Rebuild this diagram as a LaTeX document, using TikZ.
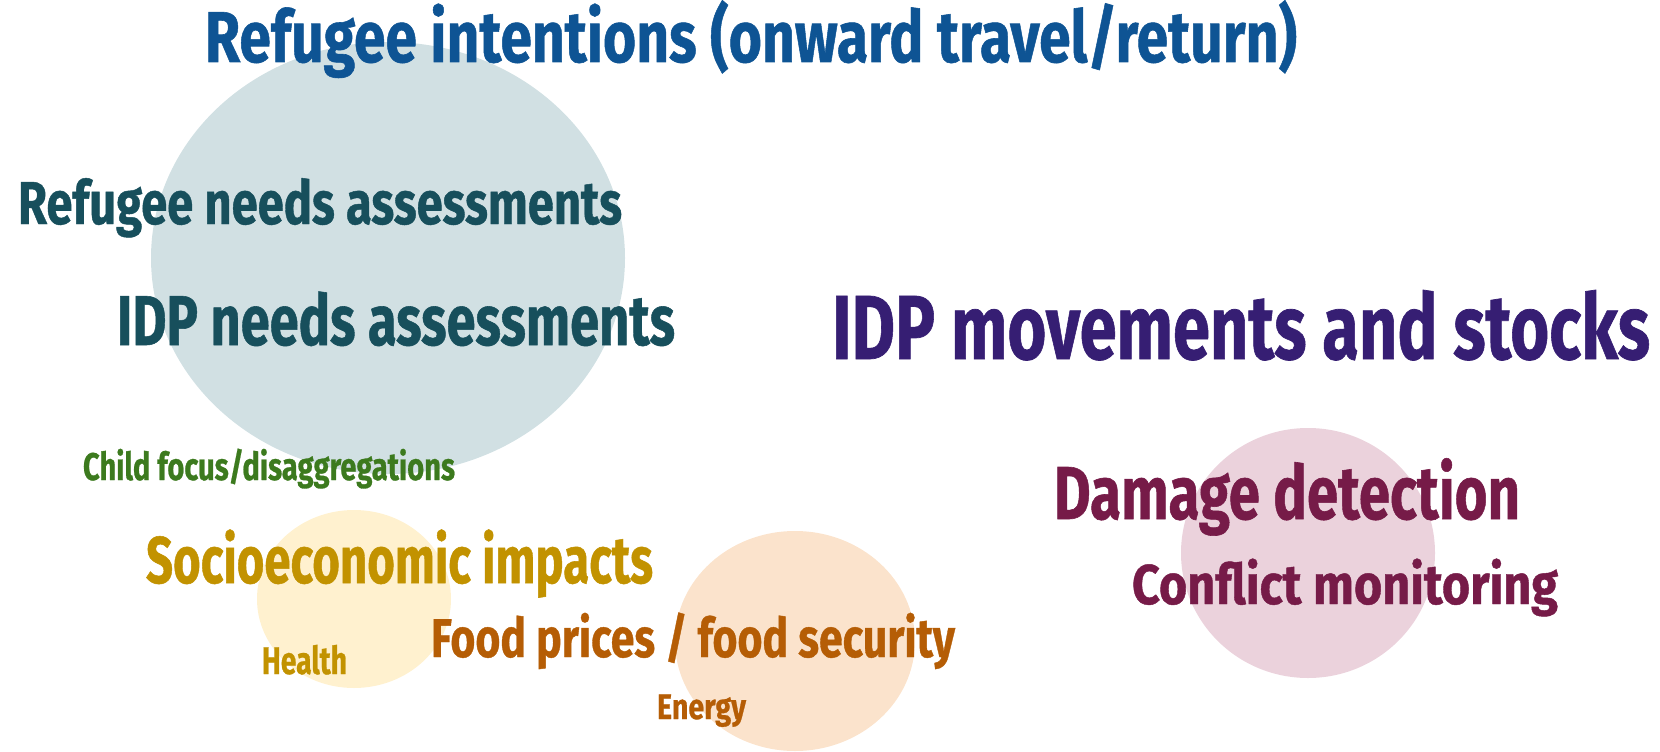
\documentclass[tikz,border=0pt]{standalone}
\usepackage{fontspec}
\setmainfont{Fira Sans}[BoldFeatures={FakeBold=0.8}]
\usepackage{graphicx}
\usetikzlibrary{shapes.geometric}
\definecolor{cBlob}{HTML}{D1E0E3}
\definecolor{cYel}{HTML}{FFF1CF}
\definecolor{cPeach}{HTML}{FBE3CC}
\definecolor{cPink}{HTML}{EBD2DC}
\definecolor{cTitle}{HTML}{0E5494}
\definecolor{cTeal}{HTML}{174F5C}
\definecolor{cPurple}{HTML}{361E73}
\definecolor{cGreen}{HTML}{3C7A1E}
\definecolor{cMaroon}{HTML}{761B48}
\definecolor{cGold}{HTML}{C29200}
\definecolor{cOrange}{HTML}{B55D05}
\newcommand\fitw[3]{\fontsize{#2}{#2}\selectfont\bfseries\resizebox{#1pt}{\height}{#3}}
\tikzset{
  blob/.style={ellipse, draw=none, inner sep=0pt},
  lab/.style={anchor=base west, inner sep=0pt, outer sep=0pt}
}
\begin{document}
\begin{tikzpicture}[x=1pt,y=-1pt]
\useasboundingbox (0,0) rectangle (1660,752);
\node[blob, fill=cBlob, minimum width=474pt, minimum height=432pt] (b1) at (388,258) {};
\node[blob, fill=cYel, minimum width=194pt, minimum height=178pt] (b2) at (354,599) {};
\node[blob, fill=cPeach, minimum width=240pt, minimum height=220pt] (b3) at (795,641) {};
\node[blob, fill=cPink, minimum width=254pt, minimum height=250pt] (b4) at (1308,553) {};

\node[lab, text=cTitle] (t1) at (205,62) {\fitw{1092}{72}{Refugee intentions (onward travel/return)}};
\node[lab, text=cTeal] (t2) at (18,224) {\fitw{604}{60.5}{Refugee needs assessments}};
\node[lab, text=cTeal] (t3) at (117,345) {\fitw{558}{70.5}{IDP needs assessments}};
\node[lab, text=cPurple] (t4) at (832,359) {\fitw{818}{91}{IDP movements and stocks}};
\node[lab, text=cGreen] (t5) at (83,480) {\fitw{372}{38.5}{Child focus/disaggregations}};
\node[lab, text=cMaroon] (t6) at (1054,519) {\fitw{466}{75}{Damage detection}};
\node[lab, text=cMaroon] (t7) at (1132,604) {\fitw{426}{56}{Conflict monitoring}};
\node[lab, text=cGold] (t8) at (146,583) {\fitw{507}{66}{Socioeconomic impacts}};
\node[lab, text=cGold] (t9) at (262,674) {\fitw{85}{38.5}{Health}};
\node[lab, text=cOrange] (t10) at (431,657) {\fitw{524}{54.5}{Food prices / food security}};
\node[lab, text=cOrange] (t11) at (657,719) {\fitw{89}{35.5}{Energy}};
\end{tikzpicture}
\end{document}
